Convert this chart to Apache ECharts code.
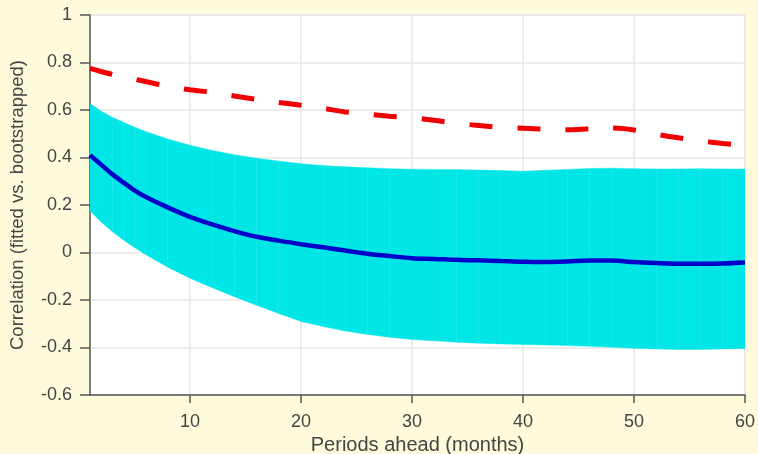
<!DOCTYPE html>
<html>
<head>
<meta charset="utf-8">
<script src="https://cdn.jsdelivr.net/npm/echarts@6/dist/echarts.min.js"></script>
<style>
  html, body { margin: 0; padding: 0; background: #fefbdc; }
  #chart { width: 758px; height: 454px; }
</style>
</head>
<body>
<div id="chart"></div>
<script>
// horizon (months)
const periods = [1, 2, 3, 4, 5, 6, 8, 10, 12, 14, 16, 18, 20, 22, 24, 26, 28, 30,
  32, 34, 36, 38, 40, 42, 44, 46, 48, 50, 52, 54, 56, 58, 60]

// mean correlation (blue)
const meanCorr = [0.41, 0.37, 0.33, 0.295, 0.262, 0.235, 0.19, 0.15, 0.118, 0.09,
  0.066, 0.05, 0.035, 0.022, 0.008, -0.005, -0.015, -0.024, -0.027, -0.031, -0.033,
  -0.036, -0.039, -0.04, -0.038, -0.034, -0.034, -0.04, -0.044, -0.047, -0.047,
  -0.046, -0.042]

// band bounds (cyan)
const bandUpper = [0.627, 0.595, 0.57, 0.548, 0.528, 0.51, 0.478, 0.452, 0.43, 0.412,
  0.397, 0.385, 0.374, 0.366, 0.361, 0.357, 0.353, 0.351, 0.35, 0.349, 0.347, 0.345,
  0.342, 0.346, 0.35, 0.354, 0.355, 0.353, 0.352, 0.352, 0.353, 0.352, 0.352]
const bandLower = [0.176, 0.128, 0.088, 0.053, 0.021, -0.008, -0.062, -0.108, -0.148, -0.186,
  -0.222, -0.257, -0.29, -0.312, -0.331, -0.345, -0.357, -0.366, -0.372, -0.378, -0.382,
  -0.385, -0.387, -0.389, -0.392, -0.395, -0.399, -0.403, -0.406, -0.408, -0.408,
  -0.406, -0.404]

// red dashed
const refCorr = [0.775, 0.762, 0.75, 0.74, 0.73, 0.72, 0.70, 0.685, 0.674, 0.659,
  0.645, 0.632, 0.62, 0.607, 0.592, 0.582, 0.574, 0.567, 0.557, 0.544, 0.535, 0.527,
  0.523, 0.519, 0.517, 0.521, 0.524, 0.516, 0.498, 0.483, 0.47, 0.459, 0.45]

const xTicks = [10, 20, 30, 40, 50, 60]

const pairs = ys => periods.map((p, i) => [p, ys[i]])

const chart = echarts.init(document.getElementById('chart'))
const font = 'Liberation Sans, Arial, sans-serif'

// one filled patch per interval, like the original
const renderBand = (params, api) => {
  const i = params.dataIndex
  if (i >= periods.length - 1) return null
  const pts = [
    api.coord([periods[i], bandLower[i]]),
    api.coord([periods[i + 1], bandLower[i + 1]]),
    api.coord([periods[i + 1], bandUpper[i + 1]]),
    api.coord([periods[i], bandUpper[i]])
  ]
  return {
    type: 'polygon',
    shape: { points: pts },
    style: { fill: '#00e6e6', stroke: '#00e6e6', lineWidth: 0.4 }
  }
}

chart.setOption({
  backgroundColor: '#fefbdc',
  animation: false,
  grid: {
    left: 90, right: 13, top: 15, bottom: 59,
    outerBoundsMode: 'none',
    show: true, backgroundColor: '#ffffff', borderColor: '#e4e4e4', borderWidth: 1
  },
  xAxis: {
    type: 'value',
    min: 1,
    max: 60,
    name: 'Periods ahead (months)',
    nameLocation: 'middle',
    nameGap: 35,
    nameTextStyle: { fontFamily: font, fontSize: 20, color: '#444' },
    axisLine: { onZero: false, lineStyle: { color: '#555', width: 1.5 } },
    axisTick: { show: true, length: 8, customValues: xTicks, lineStyle: { color: '#555', width: 1.5 } },
    axisLabel: { customValues: xTicks, fontFamily: font, fontSize: 18, color: '#444', margin: 18 },
    splitLine: { show: true, lineStyle: { color: '#e6e6e6', width: 1.5 } }
  },
  yAxis: {
    type: 'value',
    min: -0.6,
    max: 1,
    interval: 0.2,
    name: 'Correlation (fitted vs. bootstrapped)',
    nameLocation: 'middle',
    nameGap: 63,
    nameTextStyle: { fontFamily: font, fontSize: 18.5, color: '#444' },
    axisLine: { show: true, lineStyle: { color: '#555', width: 1.5 } },
    axisTick: { show: true, length: 10, lineStyle: { color: '#555', width: 1.5 } },
    axisLabel: { fontFamily: font, fontSize: 18, color: '#444', margin: 18 },
    splitLine: { show: true, lineStyle: { color: '#e6e6e6', width: 1.5 } }
  },
  series: [
    {
      type: 'custom',
      renderItem: renderBand,
      data: periods.map((p, i) => [p, bandLower[i], bandUpper[i]]),
      encode: { x: 0, y: [1, 2] },
      clip: true,
      z: 1
    },
    {
      type: 'line',
      data: pairs(meanCorr),
      symbol: 'none',
      smooth: 0.3,
      lineStyle: { color: '#0000c8', width: 4.5 },
      z: 3
    },
    {
      type: 'line',
      data: pairs(refCorr),
      symbol: 'none',
      smooth: 0.3,
      lineStyle: { color: '#f00000', width: 5, type: [23, 25], cap: 'butt' },
      z: 3
    }
  ]
})
</script>
</body>
</html>
